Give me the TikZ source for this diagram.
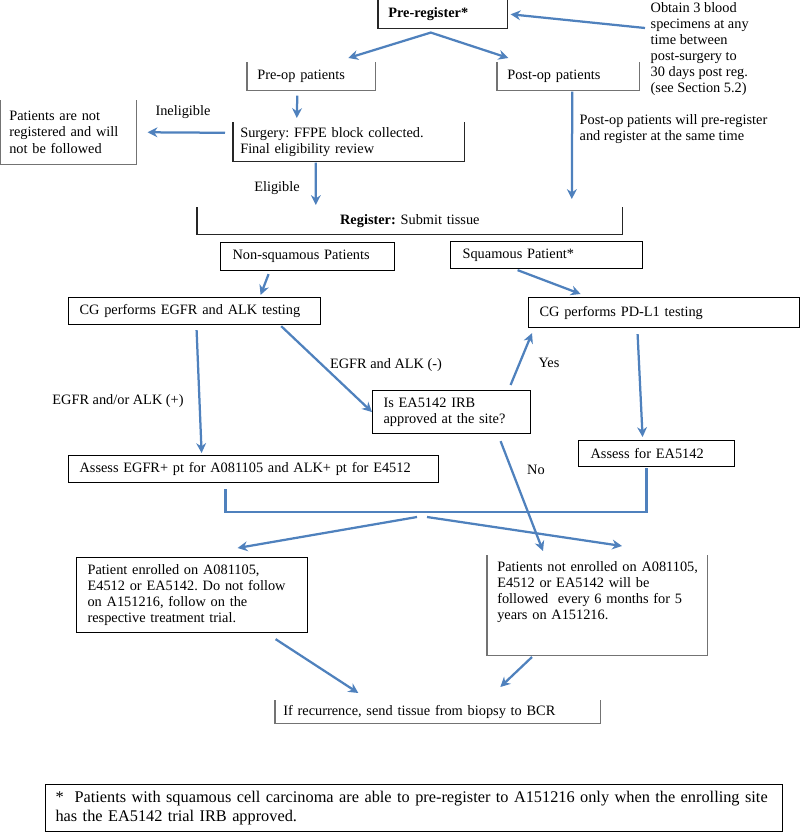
\documentclass[tikz,border=0pt]{standalone}
\usepackage{fontspec}
\setmainfont{Liberation Serif}
\usetikzlibrary{arrows.meta}
\definecolor{flowblue}{RGB}{79,129,189}
\begin{document}
\frenchspacing
\begin{tikzpicture}[x=0.025cm,y=-0.025cm,
  font=\fontsize{10.2}{11.4}\selectfont,
  flow/.style={draw=flowblue,line width=1.6pt,-{Stealth[length=7pt,width=7pt]}},
  flowline/.style={draw=flowblue,line width=1.6pt},
  box/.style={draw,line width=0.8pt,anchor=north west,align=left,inner xsep=0.275cm,inner ysep=0pt},
  openbox/.style={anchor=north west,align=left,inner xsep=0.25cm,inner ysep=0pt},
  rim/.style={draw=black!55,line width=1pt},
  darkrim/.style={draw=black!85,line width=1pt},
  note/.style={inner sep=1pt}]
\useasboundingbox (0,0) rectangle (800,835);
\node[openbox,text width=2.725cm,minimum height=0.7cm] (prereg) at (378,0) {\textbf{Pre-register*}};
\node[anchor=north west,align=left,inner sep=1pt] (obtain) at (649,1) {Obtain 3 blood\\specimens at any\\time between\\post-surgery to\\30 days post reg.\\(see Section 5.2)};
\node[openbox,text width=2.7cm,minimum height=0.7cm] (preop) at (247,62) {Pre-op patients};
\node[openbox,text width=3.05cm,minimum height=0.7cm] (postop) at (497,62) {Post-op patients};
\node[openbox,inner xsep=0.175cm,text width=5.425cm,minimum height=0.975cm] (surg) at (233,122) {Surgery: FFPE block collected.\\Final eligibility review};
\node[openbox,inner xsep=0.225cm,text width=2.95cm,minimum height=1.6cm] (notreg) at (0,100) {Patients are not\\registered and will\\not be followed};
\node[anchor=north west,align=left,inner sep=1pt] (postnote) at (578,113) {Post-op patients will pre-register\\and register at the same time};
\node[openbox,align=center,text width=10.125cm,minimum height=0.675cm] (reg) at (197,207) {\textbf{Register:} Submit tissue};
\node[box,inner xsep=0.3cm,text width=3.75cm,minimum height=0.7cm] (nonsq) at (220,242) {Non-squamous Patients};
\node[box,inner xsep=0.3cm,text width=4.2cm,minimum height=0.675cm] (squam) at (450,241) {Squamous Patient*};
\node[box,text width=5.75cm,minimum height=0.675cm] (cgegfr) at (68,297) {CG performs EGFR and ALK testing};
\node[box,text width=6.225cm,minimum height=0.75cm] (cgpdl1) at (528,297) {CG performs PD-L1 testing};
\node[box,text width=3.4cm,minimum height=1.075cm] (irb) at (372,390) {Is EA5142 IRB\\approved at the site?};
\node[box,text width=8.7cm,minimum height=0.675cm] (asegfr) at (68,455) {Assess EGFR+ pt for A081105 and ALK+ pt for E4512};
\node[box,inner xsep=0.3cm,text width=3.3cm,minimum height=0.65cm] (asea) at (578,440) {Assess for EA5142};
\node[box,text width=5.225cm,minimum height=1.875cm] (enr) at (76,557) {Patient enrolled on A081105,\\E4512 or EA5142. Do not follow\\on A151216, follow on the\\respective treatment trial.};
\node[openbox,inner ysep=0.15cm,text width=5cm] (notenr) at (487,555) {\mbox{Patients not enrolled on A081105,}\\E4512 or EA5142 will be\\followed\ \ every 6 months for 5\\years on A151216.};
\node[openbox,inner xsep=0.2cm,text width=7.725cm,minimum height=0.575cm] (recur) at (275,700) {If recurrence, send tissue from biopsy to BCR};
\node[box,inner xsep=0.25cm,text width=17.925cm,minimum height=1.175cm,font=\fontsize{11.6}{14.2}\selectfont] (foot) at (45,784) {\mbox{*\ \ Patients with squamous cell carcinoma are able to pre-register to A151216 only when the enrolling site}\\has the EA5142 trial IRB approved.};
\node[note] (inelig) at (183,112) {Ineligible};
\node[note] (elig) at (277,188) {Eligible};
\node[note] (pos) at (118,401) {EGFR and/or ALK (+)};
\node[note] (neg) at (386,365) {EGFR and ALK (-)};
\node[note] (yes) at (549,363) {Yes};
\node[note] (no) at (536,470) {No};
\draw[darkrim] (prereg.north west) |- (prereg.south east) -- (prereg.north east);
\draw[rim] (preop.north west) |- (preop.south east) -- (preop.north east);
\draw[rim] (postop.north west) |- (postop.south east) -- (postop.north east);
\draw[darkrim] (surg.north west) |- (surg.south east) -- (surg.north east);
\draw[rim] (notreg.north west) |- (notreg.south east) -- (notreg.north east);
\draw[darkrim] (reg.north west) |- (reg.south east) -- (reg.north east);
\draw[rim] (notenr.north west) |- ([yshift=-0.675cm]notenr.south east) -- (notenr.north east);
\draw[rim] (recur.north west) |- (recur.south east) -- (recur.north east);
\coordinate (split) at ([shift={(-12,4)}]prereg.south);
\draw[flow] ([shift={(-4,27)}]obtain.north west) -- ([shift={(3,0)}]prereg.east);
\draw[flow,{Stealth[length=7pt,width=7pt]}-{Stealth[length=7pt,width=7pt]}] ([shift={(37,-4)}]preop.north) -- (split) -- ([shift={(-60,-4)}]postop.north);
\draw[flow] ([shift={(-14,5)}]preop.south) -- ([shift={(-52,-4)}]surg.north);
\draw[flow] ([shift={(-8,-9)}]surg.west) -- ([shift={(11,0)}]notreg.east);
\draw[flow] ([shift={(-33,1)}]surg.south) -- ([shift={(-94,-2)}]reg.north);
\draw[flow] ([shift={(4,1)}]postop.south) -- ([shift={(162,-8)}]reg.north);
\draw[flow] ([shift={(-39,3)}]nonsq.south) -- ([shift={(66,-2)}]cgegfr.north);
\draw[flow] ([shift={(-29,1)}]squam.south) -- ([shift={(-83.5,-3)}]cgpdl1.north);
\draw[flow] ([shift={(2,5)}]cgegfr.south) -- ([shift={(-52,-2)}]asegfr.north);
\draw[flow] ([shift={(-40,1)}]cgegfr.south east) -- (irb.west);
\draw[flow] ([shift={(59,-5)}]irb.north) -- ([shift={(4,5)}]cgpdl1.south west);
\draw[flow] ([shift={(-26.5,6)}]cgpdl1.south) -- ([shift={(-14,-3)}]asea.north);
\draw[flow] ([shift={(49,7)}]irb.south) -- ([shift={(56,-4)}]notenr.north west);
\draw[flowline] ([shift={(-28,6)}]asegfr.south) -- ++(0,23) -| ([shift={(-10,1)}]asea.south);
\coordinate (merge) at (422,517);
\draw[flow] ([shift={(-5,0)}]merge) -- ([shift={(45.5,-9)}]enr.north);
\draw[flow] ([shift={(5,0)}]merge) -- ([shift={(135,-9)}]notenr.north west);
\draw[flow] ([shift={(83.5,6)}]enr.south) -- ([shift={(-79.5,-7)}]recur.north);
\draw[flow] ([shift={(45,102)}]notenr.north west) -- ([shift={(62.5,-13)}]recur.north);
\end{tikzpicture}
\end{document}
